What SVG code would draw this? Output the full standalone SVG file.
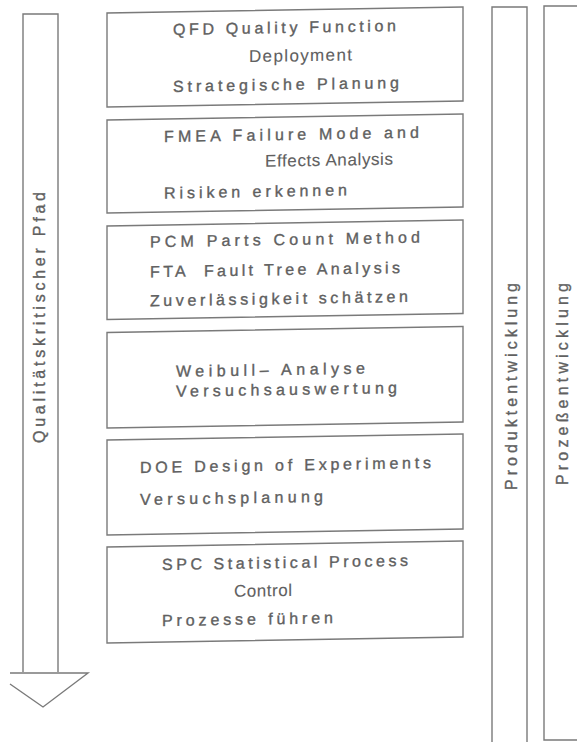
<svg xmlns="http://www.w3.org/2000/svg" width="577" height="742" viewBox="0 0 577 742">
  <style>
    .frame { fill: none; stroke: #7a7a7a; stroke-width: 1.4; stroke-linejoin: miter; }
    .t { font-family: "Liberation Sans", Arial, sans-serif; font-size: 16px; fill: #606060; stroke: #606060; stroke-width: 0.35; }
    .s { font-size: 17px; stroke-width: 0.1; }
  </style>
  <rect width="577" height="742" fill="#ffffff"/>

  <!-- flow arrow on the left: quality-critical path -->
  <g id="connectors">
    <g id="path-arrow">
      <path class="frame" d="M23 672 V14 H58 V672"/>
      <path class="frame" d="M10 673 H88 L43 707 L10 684"/>
      <text class="t" transform="translate(45,443) rotate(-90)" x="0" y="0" textLength="251">Qualitätskritischer Pfad</text>
    </g>
  </g>

  <!-- method boxes (slightly sheared, as printed) -->
  <g id="methods" transform="matrix(1 -0.01685 0 1 0 1.803)">
    <g id="qfd">
      <rect class="frame" x="107" y="13" width="356" height="94"/>
      <text class="t" x="173" y="36" textLength="223">QFD Quality Function</text>
      <text class="t s" x="249" y="64.5" textLength="103">Deployment</text>
      <text class="t" x="173" y="93" textLength="226">Strategische Planung</text>
    </g>
    <g id="fmea">
      <rect class="frame" x="107" y="120" width="356" height="93"/>
      <text class="t" x="164" y="143" textLength="255">FMEA Failure Mode and</text>
      <text class="t s" x="265" y="169.5" textLength="128">Effects Analysis</text>
      <text class="t" x="164" y="199.5" textLength="183">Risiken erkennen</text>
    </g>
    <g id="pcm-fta">
      <rect class="frame" x="107" y="226" width="356" height="93.5"/>
      <text class="t" x="150" y="248" textLength="270">PCM Parts Count Method</text>
      <text class="t" x="150" y="278" textLength="250" xml:space="preserve">FTA  Fault Tree Analysis</text>
      <text class="t" x="150" y="307" textLength="258">Zuverlässigkeit schätzen</text>
    </g>
    <g id="weibull">
      <rect class="frame" x="107" y="332.5" width="356" height="95.5"/>
      <text class="t" x="176" y="378" textLength="189">Weibull– Analyse</text>
      <text class="t" x="176" y="398" textLength="221">Versuchsauswertung</text>
    </g>
    <g id="doe">
      <rect class="frame" x="107" y="440" width="356" height="95"/>
      <text class="t" x="140" y="473.5" textLength="291">DOE Design of Experiments</text>
      <text class="t" x="140" y="505.5" textLength="183">Versuchsplanung</text>
    </g>
    <g id="spc">
      <rect class="frame" x="107" y="547" width="356" height="96"/>
      <text class="t" x="162" y="571" textLength="246">SPC Statistical Process</text>
      <text class="t s" x="234" y="599" textLength="58">Control</text>
      <text class="t" x="162" y="627" textLength="171">Prozesse führen</text>
    </g>
  </g>

  <!-- product development column -->
  <g id="produktentwicklung">
    <path class="frame" d="M492 745 V7 H527 V745"/>
    <text class="t" transform="translate(516.5,490) rotate(-90)" x="0" y="0" textLength="207">Produktentwicklung</text>
  </g>

  <!-- process development column -->
  <g id="prozessentwicklung">
    <path class="frame" d="M580 6 H544 V740 H580"/>
    <text class="t" transform="translate(567.5,485) rotate(-90)" x="0" y="0" textLength="202">Prozeßentwicklung</text>
  </g>
</svg>
